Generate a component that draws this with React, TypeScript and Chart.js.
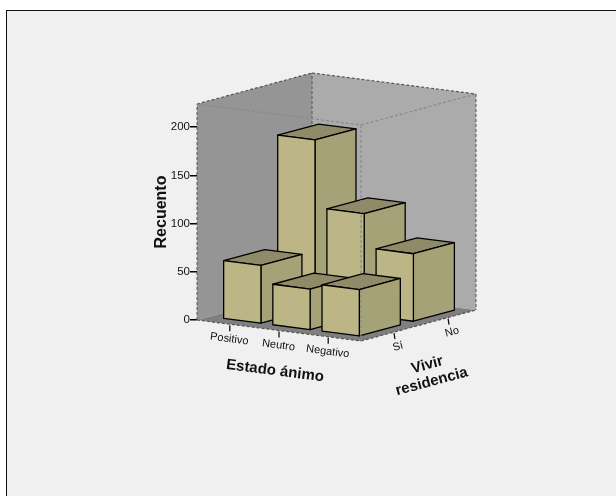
import { useEffect, useRef } from "react";
import { Chart, registerables } from "chart.js";

Chart.register(...registerables);

const moodLabels = ["Positivo", "Neutro", "Negativo"];
const stayLabels = ["Sí", "No"];
const countsSi = [60, 42, 48];
const countsNo = [175, 105, 70];
const countTicks = [0, 50, 100, 150, 200];
const countAxisMax = 224;

const moodTitle = "Estado ánimo";
const stayTitle = ["Vivir", "residencia"];
const countTitle = "Recuento";

const FONT = '"Liberation Sans", Arial, sans-serif';

// Oblique projection of the floor: screen offset for a full run along each ground axis.
const MOOD_RUN = { dx: 164, dy: 21 };
const STAY_RUN = { dx: 115, dy: -31 };
const BAR_SIZE_MOOD = 0.2274;
const BAR_SIZE_STAY = 0.3565;

const COLORS = {
  page: "#ffffff",
  panel: "#f0f0f0",
  frame: "#111111",
  wallLeft: "#959595",
  wallRight: "#ababab",
  floor: "#7f7f7f",
  barFront: "#bcb686",
  barSide: "#a5a278",
  barTop: "#8f8a67",
  barEdge: "#000000",
  edgeBack: "#555555",
  edgeFront: "#8a8a8a",
  text: "#111111",
};

type Pt = [number, number];

function poly(ctx: CanvasRenderingContext2D, pts: Pt[], fill?: string, stroke?: string) {
  ctx.beginPath();
  pts.forEach((p, i) => (i ? ctx.lineTo(p[0], p[1]) : ctx.moveTo(p[0], p[1])));
  ctx.closePath();
  if (fill) {
    ctx.fillStyle = fill;
    ctx.fill();
  }
  if (stroke) {
    ctx.strokeStyle = stroke;
    ctx.stroke();
  }
}

function dashed(ctx: CanvasRenderingContext2D, a: Pt, b: Pt, color: string, width = 1) {
  ctx.save();
  ctx.setLineDash([3, 2]);
  ctx.strokeStyle = color;
  ctx.lineWidth = width;
  ctx.beginPath();
  ctx.moveTo(a[0], a[1]);
  ctx.lineTo(b[0], b[1]);
  ctx.stroke();
  ctx.restore();
}

function tiltedText(
  ctx: CanvasRenderingContext2D,
  text: string,
  x: number,
  y: number,
  angle: number,
  font: string
) {
  ctx.save();
  ctx.translate(x, y);
  ctx.rotate(angle);
  ctx.font = font;
  ctx.fillStyle = COLORS.text;
  ctx.textAlign = "center";
  ctx.textBaseline = "middle";
  ctx.fillText(text, 0, 0);
  ctx.restore();
}

const panelPlugin = {
  id: "panel",
  beforeDraw(chart: any) {
    const { ctx, width, height } = chart;
    ctx.save();
    ctx.fillStyle = COLORS.page;
    ctx.fillRect(0, 0, width, height);
    ctx.fillStyle = COLORS.panel;
    ctx.fillRect(6, 10, width - 6, height - 10);
    ctx.fillStyle = COLORS.frame;
    ctx.fillRect(6, 10, width - 6, 1);
    ctx.fillRect(6, 10, 1, height - 10);
    ctx.restore();
  },
};

const cubePlugin = {
  id: "cube",
  afterDatasetsDraw(chart: any) {
    const { ctx, scales } = chart;
    const { x: xs, z: zs, y: ys } = scales;
    const u = (i: number) => (xs.getPixelForValue(i) - xs.left) / xs.width;
    const w = (j: number) => (zs.getPixelForValue(j) - zs.left) / zs.width;
    const project = (a: number, b: number, v: number): Pt => [
      xs.left + a * MOOD_RUN.dx + b * STAY_RUN.dx,
      ys.getPixelForValue(v) + a * MOOD_RUN.dy + b * STAY_RUN.dy,
    ];

    const top = countAxisMax;
    const L = project(0, 0, 0);
    const F = project(1, 0, 0);
    const R = project(1, 1, 0);
    const B = project(0, 1, 0);
    const L2 = project(0, 0, top);
    const F2 = project(1, 0, top);
    const R2 = project(1, 1, top);
    const B2 = project(0, 1, top);

    ctx.save();
    poly(ctx, [L, L2, B2, B], COLORS.wallLeft);
    poly(ctx, [B, B2, R2, R], COLORS.wallRight);
    poly(ctx, [L, B, R, F], COLORS.floor);
    dashed(ctx, L, L2, COLORS.edgeBack);
    dashed(ctx, L2, B2, COLORS.edgeBack, 1.2);
    dashed(ctx, B2, R2, COLORS.edgeBack, 1.2);
    dashed(ctx, R2, R, COLORS.edgeBack);
    dashed(ctx, B, B2, COLORS.edgeBack);
    dashed(ctx, L, F, COLORS.edgeBack, 1.2);
    dashed(ctx, F, R, COLORS.edgeBack, 1.2);

    // Rear row first, left to right, so nearer boxes cover farther ones.
    ctx.lineWidth = 1.3;
    ctx.lineJoin = "round";
    const rows = chart.data.datasets
      .map((ds: any) => ds.data)
      .reverse();
    rows.forEach((points: { x: number; y: number; z: number }[]) => {
      points.forEach((p) => {
        const a0 = u(p.x) - BAR_SIZE_MOOD / 2;
        const a1 = a0 + BAR_SIZE_MOOD;
        const b0 = w(p.z) - BAR_SIZE_STAY / 2;
        const b1 = b0 + BAR_SIZE_STAY;
        const fl = project(a0, b0, 0);
        const fr = project(a1, b0, 0);
        const br = project(a1, b1, 0);
        const tfl = project(a0, b0, p.y);
        const tfr = project(a1, b0, p.y);
        const tbr = project(a1, b1, p.y);
        const tbl = project(a0, b1, p.y);
        poly(ctx, [tfl, tfr, tbr, tbl], COLORS.barTop, COLORS.barEdge);
        poly(ctx, [tfr, tbr, br, fr], COLORS.barSide, COLORS.barEdge);
        poly(ctx, [tfl, tfr, fr, fl], COLORS.barFront, COLORS.barEdge);
      });
    });

    // Front edges of the cube sit over the boxes.
    dashed(ctx, L2, F2, COLORS.edgeFront, 1.2);
    dashed(ctx, F2, R2, COLORS.edgeFront, 1.2);
    dashed(ctx, F2, F, COLORS.edgeFront, 1.2);

    // Ground axes: ticks and labels follow the floor edges.
    const moodAngle = Math.atan2(MOOD_RUN.dy, MOOD_RUN.dx);
    const stayAngle = Math.atan2(STAY_RUN.dy, STAY_RUN.dx);
    ctx.strokeStyle = COLORS.barEdge;
    ctx.lineWidth = 1.2;
    moodLabels.forEach((label, i) => {
      const base = project(u(i), 0, 0);
      ctx.beginPath();
      ctx.moveTo(base[0], base[1] + 1);
      ctx.lineTo(base[0], base[1] + 7);
      ctx.stroke();
      tiltedText(ctx, label, base[0] - 0.5, base[1] + 14.8, moodAngle, `11px ${FONT}`);
    });
    stayLabels.forEach((label, j) => {
      const base = project(1, w(j), 0);
      ctx.beginPath();
      ctx.moveTo(base[0], base[1] + 1);
      ctx.lineTo(base[0] + 1, base[1] + 7);
      ctx.stroke();
      tiltedText(ctx, label, base[0] + 4, base[1] + 14.5, stayAngle, `11px ${FONT}`);
    });
    tiltedText(ctx, moodTitle, 275, 371, moodAngle, `bold 15px ${FONT}`);
    tiltedText(ctx, stayTitle[0], 427.3, 365, stayAngle, `bold 15px ${FONT}`);
    tiltedText(ctx, stayTitle[1], 431.7, 381.7, stayAngle, `bold 15px ${FONT}`);
    ctx.restore();
  },
};

export default function App() {
  const canvasRef = useRef<HTMLCanvasElement | null>(null);

  useEffect(() => {
    document.body.style.margin = "0";
    const chart = new Chart(canvasRef.current as HTMLCanvasElement, {
      type: "scatter",
      data: {
        datasets: [
          {
            label: stayLabels[0],
            data: countsSi.map((y, x) => ({ x, y, z: 0 })),
            pointRadius: 0,
          },
          {
            label: stayLabels[1],
            data: countsNo.map((y, x) => ({ x, y, z: 1 })),
            pointRadius: 0,
          },
        ],
      },
      options: {
        responsive: false,
        animation: false,
        layout: { padding: { top: 104, bottom: 176, right: 255, left: 0 } },
        plugins: { legend: { display: false }, tooltip: { enabled: false } },
        scales: {
          x: { type: "linear", display: false, min: -0.667, max: 2.667 },
          z: { type: "linear", axis: "x", position: "bottom", display: false, min: -0.61, max: 1.517 },
          y: {
            type: "linear",
            min: 0,
            max: countAxisMax,
            afterFit: (s: any) => {
              s.width = 197;
            },
            afterBuildTicks: (s: any) => {
              s.ticks = countTicks.map((value) => ({ value }));
            },
            border: { display: false },
            grid: { drawOnChartArea: false, drawTicks: true, tickLength: 7, color: "#000000", lineWidth: 1.5 },
            ticks: {
              includeBounds: false,
              color: COLORS.text,
              font: { family: FONT, size: 11.5 },
              padding: 0,
            },
            title: {
              display: true,
              text: countTitle,
              color: COLORS.text,
              font: { family: FONT, size: 16, weight: "bold" },
              padding: { top: 152, bottom: 0 },
            },
          },
        },
      } as any,
      plugins: [panelPlugin, cubePlugin],
    });
    return () => chart.destroy();
  }, []);

  return (
    <canvas
      ref={canvasRef}
      width={616}
      height={496}
      style={{ display: "block", width: 616, height: 496 }}
    />
  );
}
